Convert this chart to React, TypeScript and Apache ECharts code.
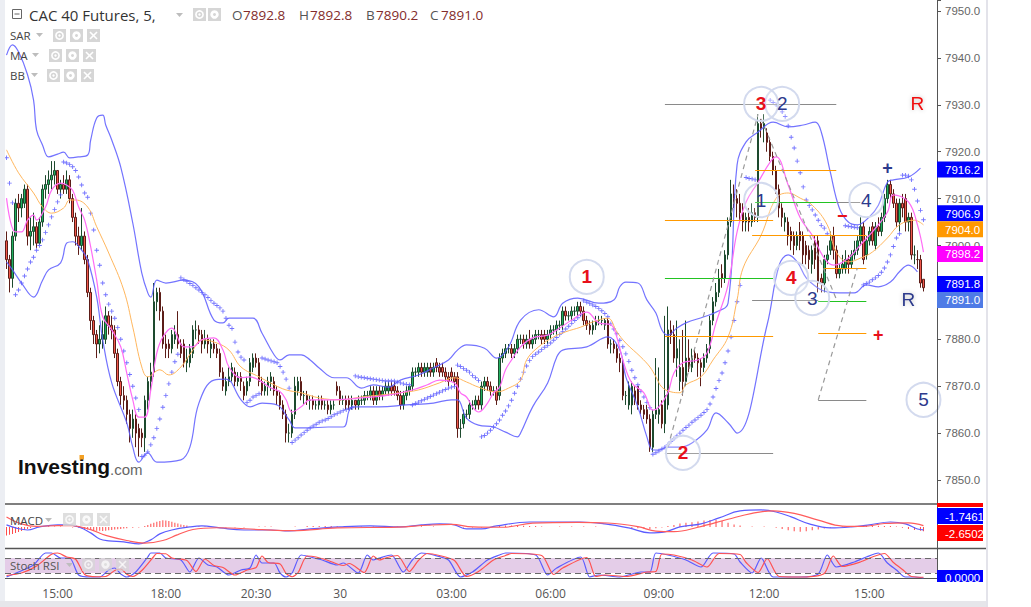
import { useEffect, useRef } from "react";
import * as echarts from "echarts";

const UI_FONT = '"Open Sans", "Liberation Sans", sans-serif';
const NUM_FONT = '"Liberation Sans", Arial, sans-serif';

// one slot per 5-minute bar, the last slots are empty space before the price axis
const categories = Array.from({ length: 310 }, (_, i) => String(i));

const timeTicks: [number, string][] = [
  [17, "15:00"], [53, "18:00"], [83, "20:30"], [111, "30"], [148, "03:00"],
  [181, "06:00"], [217, "09:00"], [252, "12:00"], [287, "15:00"],
];

// [open, close, low, high]
const candles = [
  [7901,7897,7895,7903],[7897,7893,7890,7898],[7893,7902,7891,7903],[7902,7909,7901,7910],[7909,7908,7905,7911],[7908,7910,7906,7911],[7909,7912,7908,7913],[7912,7902,7900,7913],[7902,7903,7899,7906],[7903,7904,7900,7907],
  [7904,7900.5,7899.5,7905],[7900.5,7905,7900.2,7906],[7905,7912,7904,7913],[7912,7913,7910,7915],[7913,7914,7911,7916],[7914,7915,7912,7918],[7915,7916,7913,7918],[7916,7912,7911,7916],[7912,7913,7910,7914],[7913,7912,7911,7915],
  [7912,7914,7911,7916],[7914,7910,7909,7915],[7910,7906,7905,7911],[7906,7902,7900,7907],[7902,7900,7898,7904],[7900,7902,7899,7908],[7902,7897,7896,7903],[7897,7890,7889,7898],[7890,7884,7882,7891],[7884,7881,7879,7885],
  [7881,7879,7876,7882],[7879,7880,7877,7883],[7880,7881,7878,7884],[7880,7885,7879,7887],[7885,7883,7881,7886],[7883,7882,7880,7885],[7882,7877,7876,7883],[7877,7871,7870,7878],[7871,7868,7866,7872],[7868,7867,7865,7870],
  [7867,7864,7862,7868],[7864,7861,7858,7865],[7861,7863,7859,7865],[7863,7860,7857,7864],[7861,7859,7855,7862],[7860,7859,7857,7861],[7859,7867,7856,7868],[7867,7871,7865,7872],[7871,7873,7869,7875],[7873,7888,7872,7892],
  [7888,7890,7886,7891],[7890,7886,7884,7891],[7886,7879,7878,7887],[7879,7878,7876,7881],[7879,7878,7876,7880],[7878,7881,7877,7882],[7880,7881,7879,7883],[7881,7879,7878,7886],[7879,7877,7876,7880],[7879,7875,7874,7880],
  [7875,7876,7873,7878],[7875,7878,7874,7879],[7877,7882,7876,7883],[7882,7882,7880,7884],[7882,7881,7879,7883],[7881,7879,7877,7882],[7879,7880,7878,7882],[7880,7879,7877,7881],[7878,7879,7876,7880],[7879,7878,7877,7880],
  [7878,7877,7876,7879],[7877,7873,7872,7878],[7873,7870,7869,7874],[7869,7871,7868,7872],[7871,7872,7870,7874],[7872,7874,7871,7875],[7873,7871,7870,7874],[7871,7872,7870,7873],[7872,7871,7869,7873],[7870,7868,7867,7871],
  [7869,7871,7868,7872],[7871,7875,7870,7876],[7874,7876,7873,7877],[7876,7875,7874,7877],[7875,7871,7870,7876],[7871,7869,7868,7872],[7869,7870,7868,7871],[7870,7871,7868,7872],[7871,7872,7869,7873],[7871,7869,7868,7872],
  [7869,7868,7866,7870],[7868,7866,7865,7869],[7866,7864,7863,7867],[7864,7860,7858,7865],[7860,7860,7858,7862],[7860,7864,7859,7865],[7864,7870,7863,7872],[7869,7871,7868,7872],[7871,7868,7867,7872],[7868,7868,7866,7869],
  [7868,7867,7866,7869],[7867,7867,7865,7868],[7867,7866,7865,7868],[7866,7866,7865,7867],[7866,7867,7865,7868],[7867,7866,7865,7868],[7866,7866,7865,7867],[7866,7865,7864,7867],[7865,7866,7864,7867],[7866,7866,7865,7867],
  [7870,7869,7868,7871],[7869,7867,7866,7870],[7867,7867,7866,7868],[7867,7866,7865,7868],[7867,7866,7865,7868],[7866,7867,7865,7868],[7867,7866,7865,7867],[7866,7867,7865,7868],[7867,7867,7866,7868],[7867,7868,7866,7869],
  [7868,7868,7867,7869],[7868,7869,7867,7870],[7869,7867,7866,7870],[7867,7869,7866,7870],[7869,7868,7867,7870],[7868,7869,7867,7870],[7869,7870,7868,7871],[7869,7870,7868,7871],[7870,7869,7868,7871],[7870,7869,7868,7871],
  [7869,7868,7867,7870],[7868,7866,7865,7869],[7866,7868,7865,7869],[7868,7869,7867,7870],[7869,7870,7868,7870],[7870,7873,7869,7874],[7873,7873,7872,7874],[7873,7874,7872,7875],[7874,7873,7872,7875],[7873,7874,7872,7875],
  [7873,7874,7872,7875],[7874,7873,7872,7875],[7873,7874,7872,7875],[7875,7874,7873,7876],[7874,7873,7872,7875],[7874,7873,7872,7875],[7873,7872,7871,7874],[7872,7871,7870,7873],[7873,7872,7871,7874],[7872,7871,7870,7873],
  [7872,7861,7859,7873],[7861,7861,7859,7863],[7862,7864,7861,7865],[7864,7864,7863,7865],[7864,7866,7863,7867],[7866,7866,7865,7867],[7866,7867,7865,7868],[7867,7866,7865,7868],[7866,7870,7865,7871],[7870,7871,7869,7872],
  [7871,7870,7869,7872],[7870,7869,7868,7871],[7869,7869,7868,7870],[7869,7867,7866,7870],[7868,7876,7867,7877],[7876,7877,7875,7878],[7877,7878,7876,7879],[7878,7878,7877,7879],[7878,7877,7876,7879],[7877,7878,7876,7879],
  [7878,7880,7877,7881],[7880,7880,7879,7881],[7880,7879,7878,7881],[7879,7880,7878,7881],[7880,7879,7878,7882],[7879,7880,7878,7881],[7880,7881,7879,7882],[7881,7881,7880,7882],[7881,7880,7879,7882],[7881,7880,7879,7882],
  [7880,7881,7879,7882],[7881,7882,7880,7883],[7882,7882,7881,7883],[7882,7883,7881,7884],[7883,7883,7882,7884],[7883,7886,7882,7887],[7886,7885,7884,7887],[7885,7885,7884,7886],[7885,7886,7884,7887],[7886,7886,7885,7887],
  [7886,7887,7885,7888],[7887,7886,7885,7888],[7886,7884,7883,7887],[7884,7883,7882,7885],[7883,7882,7881,7884],[7882,7883,7881,7884],[7883,7884,7882,7885],[7884,7884,7883,7885],[7884,7884,7883,7885],[7883,7884,7882,7884.5],
  [7884,7879,7878,7884.5],[7879,7879,7877,7880],[7879,7878,7877,7880],[7878,7876,7875,7879],[7876,7875,7873,7877],[7875,7868,7867,7876],[7868,7868,7866,7869],[7866,7870,7865,7871],[7866,7870,7864,7871],[7869,7867,7866,7870],
  [7870,7866,7865,7870],[7866,7865,7864,7867],[7865,7864,7863,7866],[7865,7863,7862,7866],[7863,7857,7856,7864],[7857,7864,7856,7865],[7864,7865,7863,7876],[7864,7865,7862,7874],[7866,7862,7861,7867],[7862,7868,7860,7885],
  [7866,7882,7865,7887],[7882,7881,7879,7884],[7881,7876,7875,7883],[7876,7878,7872,7884],[7871,7874,7869,7880],[7874,7871,7868,7882],[7871,7876,7870,7884],[7876,7874,7873,7880],[7874,7876,7873,7878],[7877,7876,7875,7878],
  [7876,7875,7872,7877],[7875,7874,7870,7876],[7874,7876,7873,7877],[7876,7878,7875,7879],[7878,7884,7877,7885],[7884,7888,7883,7889],[7888,7890,7887,7892],[7890,7893,7889,7895],[7894,7893,7891,7896],[7893,7898,7892,7899],
  [7898,7905,7897,7906],[7905,7911,7904,7914],[7911,7910,7908,7913],[7910,7909,7906,7912],[7909,7907,7905,7911],[7907,7905,7903,7909],[7905,7906,7903,7907],[7906,7905,7903,7908],[7905,7907,7904,7909],[7907,7906,7905,7908],
  [7906,7926,7905,7928],[7926,7925,7923,7927],[7925,7926,7922,7928],[7924,7922,7920,7925],[7922,7919,7918,7923],[7919,7916,7915,7920],[7916,7912,7911,7917],[7912,7908,7906,7913],[7908,7906,7904,7909],[7905,7906,7903,7907],
  [7905,7902,7900,7906],[7903,7901,7899,7904],[7902,7900,7898,7903],[7900,7902,7899,7903],[7903,7901,7899,7905],[7902,7898,7896,7903],[7900,7898,7896,7901],[7899,7897,7895,7900],[7896,7899,7894,7900],[7901,7897,7895,7902],
  [7901,7892,7890,7902],[7893,7892,7890,7894],[7892,7897,7890,7898],[7897,7898,7896,7900],[7899,7901,7898,7903],[7902,7899,7897,7904],[7899,7894,7893,7900],[7894,7895,7893,7896],[7895,7896,7894,7898],[7895,7897,7894,7899],
  [7897,7896,7894,7898],[7896,7898,7895,7899],[7898,7899,7897,7901],[7899,7901,7898,7902],[7901,7904,7900,7906],[7904,7897,7896,7905],[7898,7901,7897,7902],[7901,7903,7900,7904],[7904,7901,7900,7905],[7900,7904,7899,7905],
  [7904,7903,7902,7906],[7903,7906,7902,7907],[7906,7910,7905,7911],[7910,7913,7909,7914],[7913,7911,7910,7914],[7911,7909,7908,7912],[7909,7905,7904,7910],[7905,7909,7903,7910],[7909,7908,7906,7911],[7910,7905,7903,7911],
  [7905,7906,7903,7907],[7906,7898,7897,7907],[7898,7898,7896,7900],[7897,7897,7895,7899],[7897,7892,7891,7898],[7892.8,7891.0,7890.2,7892.8],
];

// Parabolic SAR dots [bar, price]
const sarDots = [
  [0,7918.7],[1,7913.3],[2,7909.1],
  [3,7889.5],[4,7890.5],[5,7892],[6,7893.5],[7,7895],[8,7896.5],[9,7897.5],[10,7899],[11,7900],[12,7901.2],[13,7902.8],[14,7904.4],[15,7906.1],[16,7907.7],[17,7909.3],[18,7910.8],
  [19,7917.8],[20,7917.6],[21,7917.3],[22,7916.8],[23,7916],[24,7914.6],[25,7912.9],[26,7911.2],[27,7910.3],[28,7906.9],[29,7903.3],[30,7899],[31,7895.8],[32,7892],[33,7889.5],[34,7887.5],[35,7886],[36,7884.5],[37,7882.5],[38,7880],[39,7877.5],[40,7875],[41,7872.5],[42,7870],[43,7867.5],[44,7865],
  [45,7855],[46,7855.3],[47,7856],[48,7857.5],[49,7859],[50,7861],[51,7863],[52,7865.5],[53,7868],[54,7870.5],[55,7873],[56,7875.2],[57,7876.8],
  [58,7893.1],[59,7892.7],[60,7892.3],[61,7891.9],[62,7891.5],[63,7891],[64,7890.5],[65,7890],[66,7889.5],[67,7888.9],[68,7888.3],[69,7887.7],[70,7887.2],[71,7886.7],[72,7886],[73,7884.5],[74,7883],[75,7882.3],[76,7879.4],[77,7877.3],[78,7876.2],[79,7875.6],
  [80,7866.5],[81,7867],[82,7867.7],[83,7868],[84,7868.4],
  [85,7876],[86,7875.8],[87,7875.6],[88,7875.4],[89,7875.2],[90,7875],[91,7874.2],[92,7873],[93,7871.5],[94,7869.6],
  [95,7858],[96,7858.5],[97,7859],[98,7859.6],[99,7860.1],[100,7860.6],[101,7861.1],[102,7861.5],[103,7861.9],[104,7862.3],[105,7862.6],[106,7862.8],[107,7863.1],[108,7863.5],[109,7863.9],[110,7864.2],[111,7864.5],[112,7864.8],[113,7865],[114,7865.2],[115,7865.4],
  [116,7872.2],[117,7872],[118,7871.9],[119,7871.8],[120,7871.7],[121,7871.6],[122,7871.5],[123,7871.4],[124,7871.3],[125,7871.2],[126,7871.1],[127,7871.1],[128,7871.1],[129,7871.1],[130,7870.9],[131,7870.7],[132,7870.5],[133,7870.4],[134,7870.3],
  [135,7866],[136,7866.3],[137,7866.6],[138,7866.9],[139,7867.2],[140,7867.5],[141,7867.8],[142,7868.1],[143,7868.4],[144,7868.7],[145,7869],[146,7869.3],[147,7869.6],[148,7869.8],[149,7869.9],
  [150,7874.5],[151,7874.2],[152,7873.8],[153,7873.4],[154,7873],[155,7872.3],[156,7871.8],[157,7871.2],
  [158,7859.2],[159,7859.5],[160,7860],[161,7860.6],[162,7861.3],[163,7862],[164,7862.8],[165,7863.8],[166,7864.7],[167,7865.8],[168,7867],[169,7868.5],[170,7870],[171,7871.5],[172,7873],[173,7874.3],[174,7875.5],[175,7876.3],[176,7876.8],[177,7877.3],[178,7877.8],[179,7878.3],[180,7878.7],[181,7879.2],[182,7879.8],[183,7880.4],[184,7881],[185,7881.6],[186,7882.2],[187,7882.8],[188,7883.4],[189,7884],[190,7884.6],[191,7885.2],
  [192,7888.2],[193,7887.9],[194,7887.6],[195,7887.3],[196,7887],[197,7886.6],[198,7886.1],[199,7885.5],[200,7884.8],[201,7883.3],[202,7882.2],[203,7881.2],[204,7879.8],[205,7878.4],[206,7876.9],[207,7875.3],[208,7873.4],[209,7871.8],[210,7870.3],[211,7868.9],[212,7867.7],[213,7866.5],[214,7865.4],
  [215,7855.5],[216,7855.8],[217,7856.2],[218,7856.6],[219,7857],[220,7857.5],[221,7858.2],[222,7858.8],[223,7859.4],[224,7860],[225,7860.6],[226,7861.2],[227,7861.7],[228,7862.3],[229,7862.8],[230,7863.3],[231,7863.8],[232,7864.4],[233,7865],[234,7866.2],[235,7867.7],[236,7869.5],[237,7871.2],[238,7872.8],[239,7875],[240,7877.5],[241,7880.5],[242,7884],[243,7888],[244,7891.5],
  [246,7914.5],[247,7914.3],[248,7914.2],[249,7914],
  [254,7931],[255,7930.5],[256,7930],[257,7929.3],[258,7928.5],[259,7927.5],[260,7925.5],[261,7923.1],[262,7920.8],[263,7918],[264,7915.5],[265,7912.5],[266,7909.7],[267,7908.5],[268,7907.6],[269,7906.5],[270,7905.4],[271,7904.3],[272,7903.7],[273,7902.5],
  [279,7904.2],[280,7904.1],[281,7904],[282,7903.9],[283,7903.8],
  [285,7891.6],[286,7891.9],[287,7892.2],[288,7892.7],[289,7893.1],[290,7893.6],[291,7894.3],[292,7895.2],[293,7896.5],[294,7898],[295,7899.8],[296,7901.6],[297,7902.5],
  [298,7915],[299,7915],[300,7914.8],[301,7914],[302,7912],[303,7909.5],[304,7907.5],[305,7905.5],
];

// Bollinger bands [bar, price]
const bbUpper = [
  [0,7940.6],[2,7942.8],[4,7941.3],[7,7936.4],[9,7931],[10,7924.6],[12,7921.4],[14,7918.9],[17,7919.5],[19,7919.9],[21,7918.7],[24,7918.9],[27,7919.3],[28,7922.5],[30,7927.2],[32,7927.8],[33,7925.7],[35,7922.5],[38,7916.7],[42,7904.8],[45,7894.1],[47,7889.9],[48,7889],[50,7892.6],[53,7892],[59,7892.6],[64,7891.2],[69,7884.1],[72,7883.5],[74,7884.5],[78,7884.5],[82,7884.5],[85,7881.3],[89,7876.7],[91,7875.6],[94,7876.7],[98,7876.7],[101,7875.6],[104,7873.9],[109,7871.8],[113,7871.8],[118,7869.6],[122,7870.3],[127,7869.8],[131,7871.3],[137,7872.4],[142,7873.9],[147,7875.6],[150,7877.7],[153,7878.8],[159,7878.1],[163,7876],[167,7878.4],[171,7884.1],[177,7886.3],[182,7884.8],[185,7887.7],[190,7888.8],[197,7887.7],[202,7888.4],[204,7891.2],[206,7892.2],[210,7892],[213,7888.4],[216,7885.6],[218,7882],[220,7880.9],[223,7882.4],[226,7883.5],[232,7884.8],[236,7885.8],[240,7887.7],[243,7917.2],[246,7922.1],[250,7924.2],[255,7926.3],[260,7925.3],[265,7925.7],[269,7926.3],[271,7924.2],[274,7915.7],[277,7908],[280,7905],[283,7904.4],[287,7906.1],[290,7908.6],[293,7913.5],[295,7914],[300,7914.6],[304,7916.5],
];
const bbLower = [
  [0,7896.5],[2,7894.8],[5,7892],[9,7889],[12,7892.6],[14,7894.8],[18,7896.3],[20,7900.5],[22,7900.8],[25,7899],[27,7896.9],[30,7889],[32,7879.9],[35,7870.7],[40,7862.2],[42,7857],[44,7853.8],[47,7855.8],[50,7853.8],[58,7854.3],[61,7857],[64,7866.4],[69,7871.3],[73,7871.5],[78,7867.1],[81,7865.6],[85,7866.4],[90,7866],[94,7862.8],[96,7861.1],[100,7861.1],[107,7861.3],[112,7861.3],[114,7864.9],[115,7865.6],[124,7865.6],[133,7866],[142,7866.4],[148,7867.1],[150,7867.1],[153,7863.2],[157,7861.7],[162,7861.3],[166,7860.2],[170,7859.2],[171,7860],[175,7865.6],[180,7870.7],[183,7876.2],[185,7877.7],[193,7878.4],[200,7880.5],[204,7877.7],[206,7872],[210,7865.6],[213,7859.2],[215,7856.4],[217,7856.4],[220,7857],[224,7857],[228,7857.9],[233,7860.7],[236,7864.3],[240,7862.2],[243,7860],[253,7883.1],[257,7895.8],[260,7898],[263,7896.5],[266,7893.1],[270,7890.9],[273,7890.1],[277,7889.9],[282,7889.9],[286,7891.6],[290,7891.2],[294,7892.2],[297,7894.4],[300,7895.8],[303,7894.4],
];

// moving averages [bar, price]
const maSlow = [
  [0,7920.4],[4,7915.5],[9,7911.2],[12,7908.2],[15,7906.9],[19,7908],[21,7909.7],[23,7909.7],[27,7908.2],[30,7904],[34,7898.4],[39,7890.5],[42,7882.6],[45,7874.1],[47,7872],[51,7873.5],[54,7872.4],[58,7874.1],[62,7877.7],[65,7879.9],[70,7879.2],[74,7877.7],[78,7874.1],[84,7872],[89,7870.3],[93,7869.2],[98,7868.6],[104,7867.5],[111,7867.1],[118,7867.7],[124,7868.1],[131,7868.6],[137,7869.2],[144,7870.7],[149,7871.8],[153,7870.9],[157,7869.8],[163,7868.8],[167,7869.6],[171,7871.3],[173,7875.6],[177,7878.4],[182,7880.5],[186,7881.6],[191,7882.6],[195,7883.7],[200,7884.5],[203,7881.6],[206,7879.2],[211,7876.2],[214,7874.1],[216,7872],[218,7869.8],[221,7868.8],[224,7868.6],[226,7870.3],[231,7872],[235,7875.6],[240,7880.5],[243,7888.4],[245,7895.2],[251,7902.2],[256,7910.1],[260,7911.2],[264,7910.1],[268,7908.6],[273,7904.4],[276,7898.6],[280,7896.5],[284,7897.3],[288,7898.6],[293,7901.6],[297,7904.4],[302,7905.4],[305,7904.4],
];
const maFast = [
  [0,7910.1],[3,7902.9],[5,7902.9],[7,7905.4],[9,7906.5],[10,7905.4],[13,7908.2],[15,7911.8],[18,7913.3],[20,7912.9],[22,7911.8],[24,7908.2],[26,7905.4],[28,7899.7],[30,7892.6],[32,7884.8],[35,7882],[38,7878.4],[40,7872.8],[42,7867.1],[44,7863.4],[46,7863.4],[48,7869.2],[50,7877.1],[52,7880.5],[55,7882.4],[59,7878.4],[62,7878.4],[65,7879.9],[69,7880.3],[72,7877.7],[74,7874.1],[78,7871.8],[81,7872],[84,7871.3],[88,7869.6],[91,7868.8],[93,7867.1],[95,7864.5],[98,7865.6],[101,7867.1],[109,7867.1],[118,7867.5],[127,7868.1],[135,7869.2],[140,7870.3],[144,7871.3],[149,7870.7],[151,7868.6],[153,7867.7],[155,7865.6],[157,7864.5],[160,7866.4],[162,7868.6],[164,7869.8],[166,7873.5],[168,7875.6],[171,7878.4],[175,7880.3],[180,7880.9],[184,7882.4],[188,7884.1],[193,7885.8],[197,7883.5],[201,7883.1],[203,7880.5],[205,7875.6],[208,7870.7],[212,7868.6],[215,7864.9],[217,7865.6],[220,7868.6],[222,7872.8],[225,7875],[230,7875.6],[233,7877.1],[236,7883.5],[240,7891.6],[243,7902.9],[246,7909.3],[250,7913.5],[254,7917.8],[256,7918.9],[260,7912.9],[264,7905.9],[268,7902.2],[272,7897.3],[275,7895.8],[280,7897.3],[284,7900.1],[288,7902.9],[293,7907.1],[295,7910.8],[300,7909.3],[303,7904.4],[305,7898.6],
];

// MACD panel [bar, value]
const macdLine = [
  [0,1.2],[3,-0.6],[7,-1.8],[11,0],[17,1.2],[20,1.2],[24,0],[28,-3.5],[31,-7.1],[34,-8.2],[39,-8.8],[44,-10],[48,-7.6],[51,-4.1],[55,-1.8],[61,0],[65,0.6],[71,-0.6],[79,-1.8],[88,-1.8],[94,-2.4],[101,-1.2],[111,0],[121,0.6],[131,0],[138,1.2],[144,1.8],[149,1.2],[153,-1.2],[158,-1.2],[163,0.6],[174,2.9],[184,2.9],[191,2.9],[199,1.8],[207,-0.6],[214,-3.5],[219,-2.9],[224,0],[231,1.8],[237,5.3],[244,9.4],[251,10],[256,8.8],[261,5.9],[267,1.8],[274,-0.6],[281,0],[287,1.2],[294,2.9],[299,1.8],[303,-1.2],[305,-1.7],
];
const macdSignal = [
  [0,5.9],[5,1.8],[10,0.3],[17,0.8],[22,0.7],[28,-1.6],[33,-5],[40,-8],[46,-9.5],[52,-8],[57,-4.5],[62,-1.5],[70,-0.5],[85,-1.6],[95,-2.2],[110,-0.6],[130,-0.1],[140,1],[148,1.5],[155,0],[165,-0.2],[175,2.2],[190,2.7],[200,2.3],[210,0.2],[216,-2.5],[222,-2.8],[230,-0.2],[240,4.5],[248,8],[255,9.5],[262,8],[270,4],[278,0.5],[285,0.3],[292,2],[300,2.4],[305,0.8],
];
const macdHist = [
  [0,-5],[1,-4.6],[2,-4.2],[3,-3.6],[4,-3],[5,-2.4],[6,-1.8],[7,-1.2],[8,-0.6],[10,0.3],[12,0.3],[14,0.4],[16,0.3],[18,0.2],
  [22,-0.3],[24,-0.5],[25,-0.8],[26,-1.2],[27,-1.5],[28,-1.8],[29,-2],[30,-2.2],[31,-2.3],[32,-2.4],[33,-2.2],[34,-2],[35,-1.8],[36,-1.5],[37,-1.3],[38,-1.2],[39,-1],[40,-0.8],[42,-0.5],[44,-0.3],
  [46,0.6],[47,1.2],[48,1.8],[49,2.4],[50,3],[51,3.5],[52,3.9],[53,3.8],[54,3.5],[55,3],[56,2.5],[57,2],[58,1.5],[59,1.1],[60,0.8],[62,0.5],[64,0.4],[66,0.3],
  [70,-0.3],[73,-0.3],[76,-0.4],[79,-0.3],[84,0.3],[86,0.3],[88,0.3],[96,0.3],[100,0.5],[102,0.6],[104,0.5],[106,0.6],[108,0.5],[110,0.4],[114,0.3],[118,0.3],[122,0.3],[126,0.3],[130,0.3],[134,0.3],[138,0.4],[142,0.3],
  [152,-0.3],[155,-0.3],[158,-0.3],[162,0.4],[164,0.6],[166,0.8],[168,0.9],[170,0.8],[172,0.7],[174,0.6],[176,0.5],[178,0.3],[184,0.3],[188,0.3],[192,0.3],[196,0.3],
  [206,-0.4],[208,-0.6],[210,-0.8],[212,-1],[214,-1.2],[216,-0.8],[218,-0.4],
  [220,0.5],[222,1.2],[224,2],[226,2.5],[228,2.8],[230,3.2],[232,3.8],[234,4.1],[236,4.2],[238,3.5],[240,2.5],[242,1.5],[244,0.8],[248,0.3],[252,0.3],
  [256,-0.5],[258,-1.2],[260,-2],[262,-2.5],[264,-2.8],[266,-2.6],[268,-2],[270,-1.5],[272,-1],[274,-0.5],[278,0.3],
  [282,0.4],[284,0.6],[286,0.8],[288,0.8],[290,0.7],[292,0.6],[294,0.5],[296,0.3],
  [298,-0.5],[300,-1.2],[302,-1.8],[304,-2.2],[305,-2.5],
];

// Stochastic RSI [bar, value 0..100]
const stochK = [
  [0,4],[4,24],[9,52],[13,100],[15,100],[18,80],[21,80],[24,12],[28,4],[31,4],[34,32],[36,40],[38,16],[40,4],[43,24],[47,84],[48,100],[51,100],[53,80],[58,72],[61,24],[64,80],[67,52],[70,44],[74,12],[78,32],[81,40],[83,92],[85,60],[89,60],[91,20],[93,4],[95,20],[98,92],[101,84],[105,72],[110,52],[112,60],[117,20],[120,92],[122,72],[124,80],[128,92],[132,24],[135,72],[138,100],[142,92],[147,72],[151,4],[155,24],[160,72],[164,92],[166,100],[176,92],[180,12],[183,40],[191,84],[194,4],[197,12],[204,4],[211,24],[214,24],[216,100],[220,92],[226,72],[231,44],[235,100],[242,96],[244,64],[248,20],[251,80],[255,4],[264,4],[270,16],[273,92],[276,44],[282,64],[286,84],[290,100],[293,60],[296,32],[299,4],[302,4],[305,0],
];
const stochD = [
  [0,10],[5,20],[10,48],[15,95],[17,100],[20,84],[23,75],[26,14],[30,5],[33,6],[36,30],[38,36],[40,15],[42,6],[45,30],[49,86],[50,98],[53,97],[55,80],[60,70],[63,26],[66,76],[69,50],[72,42],[76,12],[80,32],[83,42],[85,88],[87,62],[91,56],[93,18],[95,5],[97,22],[100,88],[103,84],[107,70],[112,50],[114,58],[119,22],[122,88],[124,72],[126,80],[130,90],[134,26],[137,70],[140,98],[144,90],[149,70],[153,6],[157,26],[162,72],[166,90],[168,98],[178,90],[182,14],[185,40],[193,82],[196,6],[199,12],[206,6],[213,24],[216,26],[218,96],[222,92],[228,72],[233,44],[237,98],[244,94],[246,62],[250,22],[253,78],[257,6],[266,4],[272,18],[275,88],[278,46],[284,64],[288,84],[292,98],[295,62],[298,34],[301,6],[305,3],
];

// right-hand price tags
const priceTags = [
  { value: 7916.2, color: "#0000ff" },
  { value: 7906.9, color: "#0000ff" },
  { value: 7904.0, color: "#ff9800" },
  { value: 7898.2, color: "#ff00ff" },
  { value: 7891.8, color: "#0000ff" },
  { value: 7891.0, color: "#4f7be6" },
];

// drawn levels [fromBar, toBar, price, colour]
const levelLines: [number, number, number, string][] = [
  [219, 276, 7930.2, "#8a8a8a"],
  [249, 276, 7916.1, "#ff9900"],
  [249, 276, 7909.3, "#22c322"],
  [276, 284, 7909.3, "#8a8a8a"],
  [219, 255, 7905.4, "#ff9900"],
  [248, 286, 7902.2, "#ff9900"],
  [272, 286, 7895.2, "#ff9900"],
  [219, 255, 7893.1, "#22c322"],
  [248, 270, 7888.4, "#8a8a8a"],
  [270, 286, 7888.2, "#22c322"],
  [219, 255, 7880.7, "#ff9900"],
  [270, 286, 7881.3, "#ff9900"],
  [270, 286, 7867.1, "#8a8a8a"],
  [219, 255, 7855.8, "#8a8a8a"],
];
// dashed wave legs [[bar, price], [bar, price]]
const waveLegs = [
  [[220, 7857], [250, 7928]],
  [[251, 7927], [276, 7888.6]],
  [[270, 7867.1], [283, 7895.2]],
];
// wave labels [bar, price, text, colour, ring, bold]
const waveMarks: [number, number, string, string, boolean, boolean][] = [
  [193, 7893.3, "1", "#e8101a", true, true],
  [225, 7855.8, "2", "#e8101a", true, true],
  [258, 7930.2, "2", "#2d3a8c", true, false],
  [251, 7930.2, "3", "#e8101a", true, true],
  [251, 7909.7, "1", "#2d3a8c", true, false],
  [261, 7893.1, "4", "#e8101a", true, true],
  [268, 7888.8, "3", "#2d3a8c", true, false],
  [286, 7909.7, "4", "#2d3a8c", true, false],
  [305, 7867.1, "5", "#2d3a8c", true, false],
  [303, 7930.2, "R", "#f01010", false, false],
  [300, 7888.4, "R", "#2d3a8c", false, false],
  [293, 7916.5, "+", "#2d3a8c", false, true],
  [278, 7906.3, "\u2212", "#e8101a", false, true],
  [290, 7881.0, "+", "#e8101a", false, true],
];

const SAR_SYMBOL = "path://M2,0H3V2H5V3H3V5H2V3H0V2H2Z";

function textEl(x: number, y: number, text: string, font: string, fill: string, align = "left") {
  return { type: "text", x, y, z: 100, silent: true, style: { text, font, fill, textAlign: align, textVerticalAlign: "middle" } };
}

function arrow(x: number, y: number) {
  return { type: "polygon", z: 100, silent: true, shape: { points: [[x, y], [x + 7, y], [x + 3.5, y + 4]] }, style: { fill: "#bdbdbd" } };
}

// little grey legend buttons: eye, gear, close
function buttons(x: number, y: number, kinds: string[], gap: number, opacity = 1) {
  const out: any[] = [];
  kinds.forEach((k, n) => {
    const bx = x + n * gap;
    const cx = bx + 6.5;
    const cy = y + 6.5;
    out.push({ type: "rect", z: 100, silent: true, shape: { x: bx, y, width: 13, height: 13 }, style: { fill: "#d6d6d6", opacity } });
    if (k === "eye") {
      out.push({ type: "circle", z: 101, silent: true, shape: { cx, cy, r: 3.6 }, style: { fill: "none", stroke: "#fff", lineWidth: 1.6, opacity } });
      out.push({ type: "circle", z: 101, silent: true, shape: { cx, cy, r: 1.2 }, style: { fill: "#fff", opacity } });
    } else if (k === "gear") {
      out.push({ type: "circle", z: 101, silent: true, shape: { cx, cy, r: 4.2 }, style: { fill: "#fff", opacity } });
      out.push({ type: "circle", z: 102, silent: true, shape: { cx, cy, r: 1.5 }, style: { fill: "#d6d6d6", opacity } });
    } else {
      out.push({ type: "line", z: 101, silent: true, shape: { x1: bx + 3, y1: y + 3, x2: bx + 10, y2: y + 10 }, style: { stroke: "#fff", lineWidth: 1.6, opacity } });
      out.push({ type: "line", z: 101, silent: true, shape: { x1: bx + 10, y1: y + 3, x2: bx + 3, y2: y + 10 }, style: { stroke: "#fff", lineWidth: 1.6, opacity } });
    }
  });
  return out;
}

function tag(y: number, text: string, color: string, h = 16) {
  return [
    { type: "rect", z: 100, silent: true, shape: { x: 937, y: y - h / 2, width: 46, height: h }, style: { fill: color } },
    textEl(945, y + 0.5, text, `11.5px ${NUM_FONT}`, "#ffffff"),
  ];
}

const tickMap = new Map(timeTicks);

export default function App() {
  const ref = useRef<HTMLDivElement>(null);

  useEffect(() => {
    if (!ref.current) return;
    const chart = echarts.init(ref.current, undefined, { renderer: "svg" });

    const lineSeries = (data: number[][], color: string, width: number, axis = 0, smooth: number | boolean = 0.4) => ({
      type: "line",
      xAxisIndex: axis,
      yAxisIndex: axis,
      data,
      smooth,
      symbol: "none",
      silent: true,
      lineStyle: { color, width },
    });

    chart.setOption({
      animation: false,
      backgroundColor: "#ffffff",
      grid: [
        // 7950 sits 11px below the top, 4.69px per point
        { left: 5, right: 94, top: 0, height: 526.9 },
        { left: 5, right: 94, top: 505, height: 43 },
        { left: 5, right: 94, top: 549, height: 33 },
      ],
      xAxis: [
        { type: "category", gridIndex: 0, data: categories, show: false },
        { type: "category", gridIndex: 1, data: categories, show: false },
        {
          type: "category",
          gridIndex: 2,
          data: categories,
          axisLine: { lineStyle: { color: "#555", width: 1 } },
          axisTick: { alignWithLabel: true, interval: (i: number) => tickMap.has(i), length: 4, lineStyle: { color: "#555" } },
          axisLabel: {
            interval: (i: number) => tickMap.has(i),
            formatter: (_v: string, i: number) => tickMap.get(i) ?? "",
            color: "#555",
            fontSize: 12,
            fontFamily: UI_FONT,
            margin: 5,
          },
          splitLine: { show: false },
        },
      ],
      yAxis: [
        {
          type: "value",
          gridIndex: 0,
          position: "right",
          min: 7840,
          max: 7952.35,
          interval: 10,
          axisLine: { show: false },
          axisTick: { show: true, length: 4, lineStyle: { color: "#555" } },
          axisLabel: {
            // 7890.0 is hidden behind the price tags in the original
            formatter: (v: number) => (v < 7850 || v > 7950 || v === 7890 ? "" : v.toFixed(1)),
            color: "#666",
            fontSize: 11.5,
            fontFamily: NUM_FONT,
            margin: 8,
          },
          splitLine: { show: false },
        },
        { type: "value", gridIndex: 1, min: -12.4, max: 12.9, show: false },
        { type: "value", gridIndex: 2, min: -16, max: 116, show: false },
      ],
      series: [
        lineSeries(bbUpper, "rgba(90,90,255,0.85)", 1.2),
        lineSeries(bbLower, "rgba(90,90,255,0.85)", 1.2),
        lineSeries(maSlow, "#ffb75e", 1),
        lineSeries(maFast, "#ff6cf5", 1.2),
        {
          type: "candlestick",
          xAxisIndex: 0,
          yAxisIndex: 0,
          data: candles,
          barWidth: 2,
          silent: true,
          itemStyle: {
            color: "#20b05f",
            color0: "#f2584b",
            borderColor: "#1d4a2e",
            borderColor0: "#5c1d18",
            borderWidth: 1,
          },
          markLine: {
            silent: true,
            symbol: ["none", "none"],
            label: { show: false },
            data: [
              ...levelLines.map(([a, b, v, c]) => [
                { coord: [a, v], lineStyle: { color: c, width: 1, type: "solid" } },
                { coord: [b, v], lineStyle: { color: c, width: 1, type: "solid" } },
              ]),
              ...waveLegs.map(([p, q]) => [
                { coord: p, lineStyle: { color: "#9a9a9a", width: 1.2, type: [5, 4] } },
                { coord: q, lineStyle: { color: "#9a9a9a", width: 1.2, type: [5, 4] } },
              ]),
            ],
          },
          markPoint: {
            silent: true,
            data: waveMarks.map(([i, v, t, c, ring, bold]) => ({
              coord: [i, v],
              symbol: "circle",
              symbolSize: ring ? 34 : 20,
              itemStyle: ring
                ? { color: "rgba(255,255,255,0.2)", borderColor: "#d3daee", borderWidth: 2 }
                : { color: "rgba(0,0,0,0)", borderWidth: 0 },
              label: {
                show: true,
                position: "inside",
                formatter: t,
                color: c,
                fontSize: t === "+" || t === "\u2212" ? 18 : 19,
                fontWeight: bold ? "bold" : "normal",
                fontFamily: NUM_FONT,
                textShadowColor: t === "R" ? "rgba(0,0,0,0.25)" : "transparent",
                textShadowBlur: t === "R" ? 4 : 0,
              },
            })),
          },
        },
        {
          type: "scatter",
          xAxisIndex: 0,
          yAxisIndex: 0,
          data: sarDots,
          symbol: SAR_SYMBOL,
          symbolSize: 4.5,
          silent: true,
          itemStyle: { color: "#5050ff" },
        },
        {
          type: "bar",
          xAxisIndex: 1,
          yAxisIndex: 1,
          data: macdHist,
          barWidth: 1,
          silent: true,
          itemStyle: { color: "#ff4a4a" },
        },
        lineSeries(macdLine, "#5c5cff", 1.2, 1),
        lineSeries(macdSignal, "#ff5c5c", 1.2, 1),
        {
          ...lineSeries(stochK, "#5c5cff", 1.2, 2, 0.25),
          markArea: {
            silent: true,
            itemStyle: { color: "#e4cde8" },
            data: [[{ yAxis: 20 }, { yAxis: 80 }]],
          },
          markLine: {
            silent: true,
            symbol: ["none", "none"],
            label: { show: false },
            lineStyle: { color: "#6a6a6a", width: 1, type: [6, 4] },
            data: [{ yAxis: 20 }, { yAxis: 80 }],
          },
        },
        lineSeries(stochD, "#ff5252", 1.2, 2, 0.25),
      ],
    });

    // price tags sit on the axis, pushed down when they would overlap
    const tagEls: any[] = [];
    let last = -Infinity;
    priceTags.forEach((t) => {
      let y = chart.convertToPixel({ yAxisIndex: 0 }, t.value) as number;
      if (y < last + 16) y = last + 16;
      last = y;
      tagEls.push(...tag(y, t.value.toFixed(1), t.color));
    });

    const frame: any[] = [
      { type: "rect", z: 99, silent: true, shape: { x: 0, y: 0, width: 5, height: 601 }, style: { fill: "#eceef3" } },
      { type: "rect", z: 99, silent: true, shape: { x: 986, y: 0, width: 2, height: 607 }, style: { fill: "#e3e3ea" } },
      { type: "rect", z: 99, silent: true, shape: { x: 0, y: 601, width: 986, height: 6 }, style: { fill: "#e6e6ea" } },
      { type: "line", z: 99, silent: true, shape: { x1: 937.5, y1: 0, x2: 937.5, y2: 582 }, style: { stroke: "#555", lineWidth: 1 } },
      { type: "line", z: 99, silent: true, shape: { x1: 5, y1: 504, x2: 937.5, y2: 504 }, style: { stroke: "#555", lineWidth: 1.3 } },
      { type: "line", z: 99, silent: true, shape: { x1: 5, y1: 548.5, x2: 986, y2: 548.5 }, style: { stroke: "#555", lineWidth: 1.3 } },
    ];

    const header: any[] = [
      { type: "rect", z: 100, silent: true, shape: { x: 12.5, y: 9.5, width: 9, height: 9 }, style: { fill: "none", stroke: "#666", lineWidth: 1 } },
      { type: "line", z: 100, silent: true, shape: { x1: 14.5, y1: 14, x2: 19.5, y2: 14 }, style: { stroke: "#666", lineWidth: 1 } },
      textEl(29, 15, "CAC 40 Futures, 5,", `15px ${UI_FONT}`, "#333"),
      arrow(176, 13),
      ...buttons(193, 8, ["eye", "gear"], 15),
      textEl(232, 15, "O", `13.5px ${UI_FONT}`, "#555"),
      textEl(243, 15, "7892.8", `13.5px ${UI_FONT}`, "#832c2c"),
      textEl(299, 15, "H", `13.5px ${UI_FONT}`, "#555"),
      textEl(310, 15, "7892.8", `13.5px ${UI_FONT}`, "#832c2c"),
      textEl(366, 15, "B", `13.5px ${UI_FONT}`, "#555"),
      textEl(376, 15, "7890.2", `13.5px ${UI_FONT}`, "#832c2c"),
      textEl(430, 15, "C", `13.5px ${UI_FONT}`, "#555"),
      textEl(441, 15, "7891.0", `13.5px ${UI_FONT}`, "#832c2c"),
      textEl(10, 35, "SAR", `11.5px ${UI_FONT}`, "#444"),
      arrow(36, 33),
      ...buttons(53, 29, ["eye", "gear", "x"], 17),
      textEl(10, 55, "MA", `11.5px ${UI_FONT}`, "#444"),
      arrow(32, 53),
      ...buttons(49, 49, ["eye", "gear", "x"], 17),
      textEl(10, 75, "BB", `11.5px ${UI_FONT}`, "#444"),
      arrow(31, 73),
      ...buttons(47, 69, ["eye", "gear", "x"], 17),
      textEl(10, 520, "MACD", `11.5px ${UI_FONT}`, "#444"),
      arrow(45, 518),
      ...buttons(63, 513, ["eye", "gear", "x"], 17, 0.8),
      textEl(10, 565, "Stoch RSI", `11.5px ${UI_FONT}`, "#555"),
      arrow(66, 563),
      ...buttons(82, 558, ["eye", "gear", "x"], 17, 0.7),
      textEl(18, 466, "Investing", `bold 21px ${NUM_FONT}`, "#111"),
      { type: "rect", z: 101, silent: true, shape: { x: 79.5, y: 455, width: 4.5, height: 4.5 }, style: { fill: "#f3a024" } },
      textEl(110, 469, ".com", `15px ${NUM_FONT}`, "#666"),
    ];

    const panelTags: any[] = [
      { type: "rect", z: 100, silent: true, shape: { x: 937, y: 503, width: 46, height: 4 }, style: { fill: "#ff0000" } },
      ...tag(516, "-1.7461", "#0000ff"),
      ...tag(533, "-2.6502", "#ff0000"),
      ...tag(577, "0.0000", "#0000ff", 14),
      { type: "rect", z: 102, silent: true, shape: { x: 937, y: 582, width: 49, height: 10 }, style: { fill: "#ffffff" } },
    ];

    chart.setOption({ graphic: [...frame, ...header, ...tagEls, ...panelTags] });

    return () => chart.dispose();
  }, []);

  return (
    <div
      ref={ref}
      style={{ position: "fixed", left: 0, top: 0, width: 1031, height: 607, background: "#fff" }}
    />
  );
}
